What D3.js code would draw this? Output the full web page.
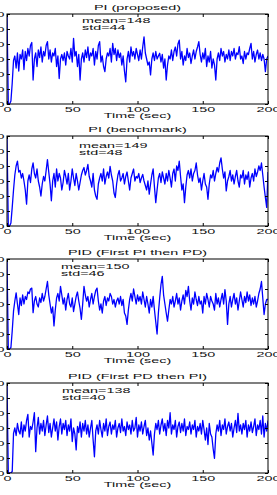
<!DOCTYPE html>
<html>
<head>
<meta charset="utf-8">
<script src="https://cdn.jsdelivr.net/npm/d3@7"></script>
<style>
  body { margin: 0; background: #fff; }
  svg { display: block; }
</style>
</head>
<body>
<div id="chart"></div>
<script>
// Panel titles and summary stats
const titles = ["PI (proposed)", "PI (benchmark)", "PID (First PI then PD)", "PID (First PD then PI)"];
const means = [148, 149, 150, 138];
const stds = [44, 48, 46, 40];
const xTicks = [0, 50, 100, 150, 200];
const yTicks = [0, 50, 100, 150, 200, 250, 300];

// Responses, one value per second (t = 0..200)
const piProposed = [
  300, 0, 0, 10, 70, 145, 160, 120, 170, 110, 165, 150, 180, 115, 175, 145, 185, 160, 195, 205,
  80, 150, 170, 125, 180, 155, 190, 140, 175, 160, 195, 208, 150, 180, 140, 170, 160, 185, 125, 160,
  85, 150, 165, 145, 170, 130, 175, 160, 150, 185, 140, 219, 160, 175, 125, 165, 80, 150, 170, 140,
  180, 155, 190, 145, 170, 160, 185, 130, 175, 150, 195, 208, 140, 160, 125, 108, 150, 170, 160, 185,
  140, 202, 165, 185, 145, 180, 155, 170, 130, 160, 110, 74, 150, 175, 140, 190, 160, 175, 150, 185,
  165, 145, 180, 150, 190, 224, 170, 150, 130, 140, 97, 150, 170, 145, 175, 150, 160, 169, 140, 165,
  120, 150, 80, 130, 160, 150, 180, 145, 175, 190, 160, 200, 213, 150, 175, 130, 160, 145, 185, 155,
  170, 135, 160, 180, 150, 175, 190, 208, 165, 140, 170, 150, 185, 125, 160, 140, 175, 120, 150, 130,
  80, 150, 170, 145, 185, 160, 175, 140, 165, 150, 180, 145, 175, 160, 185, 150, 170, 165, 191, 150,
  160, 135, 175, 150, 170, 165, 185, 202, 150, 175, 140, 165, 180, 150, 170, 145, 165, 150, 108, 150,
  160
];
const piBenchmark = [
  300, 0, 0, 10, 62, 120, 170, 200, 216, 180, 185, 160, 175, 150, 120, 73, 150, 170, 145, 190,
  210, 175, 160, 190, 150, 130, 100, 140, 165, 150, 185, 221, 180, 140, 84, 150, 175, 130, 190, 150,
  175, 160, 120, 145, 185, 165, 140, 175, 120, 150, 190, 160, 135, 175, 150, 120, 145, 170, 185, 195,
  170, 185, 205, 165, 150, 130, 175, 120, 100, 89, 140, 160, 175, 150, 190, 140, 165, 180, 160, 199,
  170, 150, 110, 95, 140, 170, 185, 150, 160, 175, 140, 165, 180, 150, 120, 160, 175, 190, 150, 165,
  160, 175, 145, 160, 172, 150, 135, 120, 150, 106, 140, 170, 190, 130, 78, 120, 160, 175, 145, 180,
  160, 140, 175, 150, 185, 160, 130, 175, 190, 150, 200, 185, 216, 165, 120, 140, 78, 130, 170, 185,
  160, 190, 150, 175, 185, 210, 170, 145, 160, 120, 150, 175, 140, 130, 89, 140, 170, 160, 185, 150,
  175, 195, 180, 210, 227, 190, 160, 180, 117, 150, 165, 185, 150, 170, 140, 165, 185, 150, 130, 170,
  160, 185, 140, 170, 155, 180, 130, 160, 175, 150, 190, 165, 180, 200, 185, 210, 170, 130, 95, 62,
  180
];
const pidPiThenPd = [
  300, 0, 0, 5, 60, 126, 160, 187, 150, 115, 170, 145, 180, 150, 175, 165, 190, 185, 200, 203,
  121, 160, 175, 150, 140, 170, 155, 185, 160, 175, 200, 225, 180, 150, 120, 140, 77, 130, 170, 185,
  160, 209, 180, 150, 170, 130, 165, 185, 150, 140, 170, 125, 150, 175, 190, 160, 135, 99, 150, 209,
  180, 160, 175, 140, 165, 185, 150, 175, 195, 203, 160, 130, 150, 120, 160, 175, 145, 170, 160, 185,
  175, 150, 165, 140, 160, 170, 150, 175, 145, 165, 120, 110, 82, 130, 165, 185, 160, 200, 175, 150,
  180, 160, 175, 150, 190, 165, 140, 175, 150, 120, 165, 140, 175, 130, 90, 50, 120, 170, 215, 242,
  180, 150, 120, 93, 130, 165, 150, 175, 140, 160, 185, 150, 170, 130, 160, 180, 150, 195, 175, 209,
  160, 130, 170, 150, 190, 165, 145, 175, 150, 160, 120, 175, 150, 185, 165, 140, 175, 160, 150, 130,
  185, 150, 170, 140, 165, 185, 150, 198, 160, 82, 150, 175, 140, 165, 185, 150, 170, 130, 160, 190,
  165, 140, 175, 155, 190, 160, 180, 145, 170, 150, 175, 140, 160, 185, 200, 225, 170, 115, 150, 165,
  165
];
const pidPdThenPi = [
  300, 0, 0, 0, 5, 132, 150, 125, 165, 140, 130, 170, 120, 160, 140, 175, 195, 120, 155, 145,
  170, 201, 71, 150, 185, 130, 165, 140, 175, 125, 160, 190, 135, 165, 120, 150, 180, 140, 170, 110,
  155, 180, 130, 165, 145, 175, 125, 160, 140, 180, 105, 150, 130, 77, 155, 135, 170, 120, 165, 140,
  175, 130, 160, 120, 150, 175, 110, 54, 140, 160, 130, 175, 145, 120, 165, 140, 180, 125, 155, 170,
  130, 160, 145, 175, 120, 150, 165, 135, 180, 140, 155, 125, 170, 145, 160, 130, 175, 140, 150, 185,
  120, 160, 140, 170, 130, 155, 175, 125, 150, 110, 140, 100, 60, 130, 165, 145, 175, 130, 160, 180,
  140, 165, 125, 175, 150, 201, 130, 160, 145, 175, 120, 155, 170, 135, 165, 140, 180, 125, 155, 145,
  170, 130, 160, 145, 175, 120, 155, 140, 165, 130, 175, 145, 110, 150, 95, 165, 130, 120, 80, 49,
  130, 160, 140, 175, 125, 160, 145, 180, 130, 155, 170, 140, 165, 120, 150, 175, 135, 199, 140, 160,
  130, 165, 145, 175, 120, 160, 140, 170, 135, 155, 180, 125, 160, 145, 175, 130, 190, 120, 165, 140,
  175
];
const allSeries = [piProposed, piBenchmark, pidPiThenPd, pidPdThenPi];

// Layout
const width = 277, height = 495;
const left = 7, right = 268, plotH = 90;
const panelTops = [14, 136, 259, 383];
const statPos = [[82, 8.5], [79, 11.5], [61, 9.5], [62, 9.5]];
const SX = 1.6, SY = 0.8;
const FONT = "'Liberation Sans', Arial, Helvetica, sans-serif";

const svg = d3.select("#chart").append("svg")
    .attr("width", width)
    .attr("height", height);

const x = d3.scaleLinear().domain([0, 200]).range([left, right]);

// Stretched text like the original figure
function label(g, tx, ty, str, anchor) {
    g.append("text")
     .attr("transform", `translate(${tx},${ty}) scale(${SX},${SY})`)
     .attr("text-anchor", anchor)
     .attr("font-family", FONT)
     .attr("font-size", 9)
     .attr("fill", "#111")
     .text(str);
}

function restyleTicks(axisG, dx, dy, anchor) {
    axisG.select(".domain").remove();
    axisG.selectAll(".tick line").attr("stroke", "#000");
    axisG.selectAll(".tick text")
         .attr("x", null).attr("y", null).attr("dy", null)
         .attr("transform", `translate(${dx},${dy}) scale(${SX},${SY})`)
         .attr("text-anchor", anchor)
         .attr("font-family", FONT)
         .attr("font-size", 9)
         .attr("fill", "#111");
}

allSeries.forEach((vals, k) => {
    const top = panelTops[k];
    const y = d3.scaleLinear().domain([0, 300]).range([top + plotH, top]);
    const g = svg.append("g");

    g.append("clipPath").attr("id", "clip" + k)
     .append("rect")
     .attr("x", left).attr("y", top)
     .attr("width", right - left).attr("height", plotH);

    const line = d3.line().x((d, i) => x(i)).y(d => y(d));
    g.append("path")
     .datum(vals)
     .attr("clip-path", `url(#clip${k})`)
     .attr("fill", "none")
     .attr("stroke", "#0000ff")
     .attr("stroke-width", 1.3)
     .attr("stroke-linejoin", "round")
     .attr("d", line);

    // bottom axis with labels, inward ticks
    const bx = g.append("g").attr("transform", `translate(0,${top + plotH})`)
        .call(d3.axisBottom(x).tickValues(xTicks).tickSize(-3).tickFormat(d3.format("d")));
    restyleTicks(bx, 0, 8, "middle");

    const tx = g.append("g").attr("transform", `translate(0,${top})`)
        .call(d3.axisTop(x).tickValues(xTicks).tickSize(-3).tickFormat(""));
    restyleTicks(tx, 0, 0, "middle");

    const ly = g.append("g").attr("transform", `translate(${left},0)`)
        .call(d3.axisLeft(y).tickValues(yTicks).tickSize(-3).tickFormat(d3.format("d")));
    restyleTicks(ly, -2.5, 2.5, "end");

    const ry = g.append("g").attr("transform", `translate(${right},0)`)
        .call(d3.axisRight(y).tickValues(yTicks).tickSize(-3).tickFormat(""));
    restyleTicks(ry, 0, 0, "start");

    g.append("rect")
     .attr("x", left).attr("y", top)
     .attr("width", right - left).attr("height", plotH)
     .attr("fill", "none").attr("stroke", "#000").attr("stroke-width", 1);

    label(g, (left + right) / 2, top - 4, titles[k], "middle");
    label(g, (left + right) / 2, top + plotH + 13.5, "Time (sec)", "middle");
    label(g, statPos[k][0], top + statPos[k][1], "mean=" + means[k], "start");
    label(g, statPos[k][0], top + statPos[k][1] + 7, "std=" + stds[k], "start");
});
</script>
</body>
</html>
